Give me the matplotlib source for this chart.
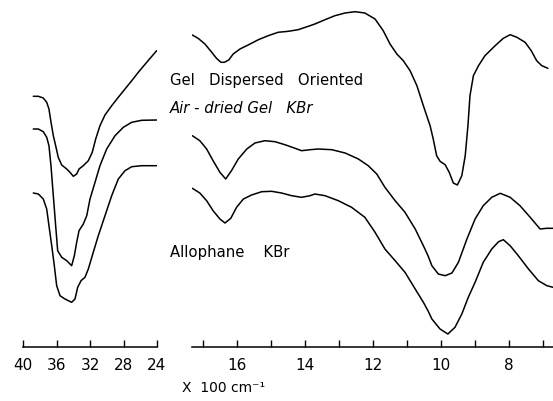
import matplotlib
matplotlib.use("Agg")
import matplotlib.pyplot as plt

# ---- data (wavenumber in units of 100 cm^-1, transmittance in arbitrary units) ----
# O-H stretching region (left panel)
oh_x_gel = [38.77, 38.17, 37.58, 37.17, 36.90, 36.66, 36.38, 36.10, 35.79, 35.38, 34.78,
            34.39, 33.99, 33.59, 33.31, 32.80, 32.20, 31.73, 31.32, 30.81, 30.21, 29.41,
            28.62, 27.82, 27.02, 26.23, 25.23, 24.04]
oh_y_gel = [250.7, 250.7, 249, 244.7, 238, 225, 211.3, 201.3, 189.7, 182, 178,
            174.7, 170.7, 173, 178, 181.3, 186.3, 194.7, 208, 221.3, 232, 241.3,
            249.7, 258, 266.3, 274.7, 284.7, 296.3]

oh_x_air = [38.77, 38.17, 37.58, 37.17, 36.90, 36.66, 36.38, 36.10, 35.86, 35.38, 34.78,
            34.19, 33.87, 33.59, 33.31, 32.80, 32.39, 32.0, 31.40, 30.81, 30.01, 29.01,
            28.02, 27.02, 25.83, 24.04]
oh_y_air = [218, 218, 215.3, 209.7, 201.3, 181.3, 151.3, 121.3, 96.3, 89.7, 86.3,
            81.3, 91.3, 104.7, 116.3, 123, 131.3, 148, 164.7, 181.3, 198, 211.3,
            219.7, 224.7, 226.7, 227]

oh_x_allo = [38.77, 38.17, 37.58, 37.17, 36.90, 36.57, 36.26, 35.98, 35.58, 34.99, 34.19,
             33.79, 33.47, 33.07, 32.60, 32.20, 31.61, 31.01, 30.21, 29.41, 28.62, 27.82,
             27.02, 25.83, 24.04]
oh_y_allo = [154, 153, 148, 138, 121.3, 101.3, 81.3, 61.3, 51.3, 48, 44.7,
             48, 59.7, 66.3, 69.7, 78, 94.7, 111.3, 131.3, 151.3, 168, 176.3,
             180.3, 181.3, 181.3]

# fingerprint region (right panel)
fp_x_gel = [17.31, 17.14, 16.94, 16.74, 16.60, 16.47, 16.37, 16.24, 16.11, 15.91, 15.67,
            15.37, 15.08, 14.79, 14.49, 14.20, 13.85, 13.71, 13.41, 13.12, 12.82, 12.53,
            12.24, 11.94, 11.70, 11.50, 11.30, 11.11, 10.91, 10.71, 10.52, 10.32, 10.23,
            10.13, 10.03, 9.88, 9.76, 9.64, 9.52, 9.39, 9.29, 9.21, 9.15, 9.05, 8.90,
            8.71, 8.41, 8.17, 7.97, 7.77, 7.53, 7.35, 7.19, 7.04, 6.86]
fp_y_gel = [312, 308.7, 303, 294.7, 288.7, 284.7, 284.7, 287, 293, 298, 302,
            307.3, 311.3, 314.7, 315.7, 317.3, 321.3, 323, 327.3, 331.3, 334, 335.3,
            334, 328, 316.3, 303, 293, 286.3, 276.3, 261.3, 241.3, 221, 208,
            191.3, 185.7, 182.3, 174.7, 164, 162, 171.3, 191.3, 221.3, 251.3, 271.3, 281.3,
            291.3, 301.3, 308.7, 312.3, 309.7, 304.7, 296.3, 286.3, 281.3, 278.7]

fp_x_air = [17.31, 17.09, 16.89, 16.70, 16.50, 16.33, 16.16, 15.96, 15.71, 15.47, 15.18,
            14.88, 14.59, 14.29, 14.10, 13.85, 13.61, 13.21, 12.82, 12.43, 12.14, 11.89,
            11.65, 11.35, 11.06, 10.76, 10.52, 10.38, 10.27, 10.08, 9.88, 9.68, 9.49,
            9.24, 9.0, 8.76, 8.51, 8.26, 7.97, 7.68, 7.38, 7.09, 6.89, 6.71]
fp_y_air = [211.3, 206.3, 198, 186.3, 174.7, 168, 176.3, 188, 198, 204, 206.3,
            205.3, 202.3, 198.7, 196.3, 197.3, 198, 197.3, 194, 188, 181.3, 173,
            159.7, 146.3, 134.7, 118, 101.3, 91, 81.3, 73, 71.3, 74, 84.7,
            108, 128, 141.3, 149.7, 153.7, 149.7, 141.3, 129.7, 118, 118.7, 118.7]

fp_x_allo = [17.31, 17.09, 16.89, 16.70, 16.50, 16.35, 16.18, 16.01, 15.81, 15.57, 15.27,
             14.98, 14.69, 14.39, 14.10, 13.85, 13.71, 13.41, 13.02, 12.63, 12.24, 11.94,
             11.65, 11.35, 11.06, 10.76, 10.52, 10.38, 10.27, 10.03, 9.80, 9.59, 9.39,
             9.20, 9.0, 8.76, 8.51, 8.31, 8.17, 7.97, 7.73, 7.43, 7.14, 6.89, 6.71]
fp_y_allo = [158.7, 154, 146.3, 136.3, 128, 124, 128.7, 139.7, 148, 152, 155.3,
             155.7, 154, 151.3, 149.7, 151.3, 153, 151.3, 146.3, 139.7, 129.7, 114.7,
             98, 86.3, 74.7, 58, 44.7, 36, 28, 18, 13, 19.7, 33,
             49.7, 64.7, 84.7, 98, 105.3, 107.3, 101.3, 91.3, 78, 66.3, 61.3, 59.7]

left_ticks = [40, 36, 32, 28, 24]
left_ticklabels = ["40", "36", "32", "28", "24"]
right_ticks = [17, 16, 15, 14, 13, 12, 11, 10, 9, 8, 7]
right_labels = {16: "16", 14: "14", 12: "12", 10: "10", 8: "8"}

labels = ["Gel   Dispersed   Oriented", "Air - dried Gel   KBr", "Allophane    KBr"]
xlabel = "X  100 cm\u207b\u00b9"

# ---- figure ----
W, H = 553, 402
fig = plt.figure(figsize=(W / 100, H / 100), dpi=100)
plt.rcParams['font.family'] = ['DejaVu Sans']

ybot = (H - 348) / H
yh = 348 / H
axL = fig.add_axes([23 / W, ybot, 134 / W, yh])
axR = fig.add_axes([192 / W, ybot, 361 / W, yh])

lw = 1.1
for xs, ys in [(oh_x_gel, oh_y_gel), (oh_x_air, oh_y_air), (oh_x_allo, oh_y_allo)]:
    axL.plot(xs, ys, color='black', lw=lw, solid_joinstyle='round', solid_capstyle='round')
for xs, ys in [(fp_x_gel, fp_y_gel), (fp_x_air, fp_y_air), (fp_x_allo, fp_y_allo)]:
    axR.plot(xs, ys, color='black', lw=lw, solid_joinstyle='round', solid_capstyle='round')

axL.set_xlim(40, 24)
axR.set_xlim(17.32, 6.71)
for ax in (axL, axR):
    ax.set_ylim(0, 348)
    for s in ('top', 'left', 'right'):
        ax.spines[s].set_visible(False)
    ax.spines['bottom'].set_linewidth(1.1)
    ax.set_yticks([])
    ax.patch.set_alpha(0)
    ax.tick_params(axis='x', direction='in', length=5, width=1.0, pad=7,
                   labelsize=11, colors='black')

axL.set_xticks(left_ticks)
axL.set_xticklabels(left_ticklabels)
axR.set_xticks(right_ticks)
axR.set_xticklabels([right_labels.get(t, "") for t in right_ticks])

fig.text(170 / W, 1 - 85 / H, labels[0], fontsize=10.7, va='baseline', ha='left')
fig.text(170 / W, 1 - 113 / H, labels[1], fontsize=10.7, va='baseline', ha='left',
         style='italic')
fig.text(170 / W, 1 - 257 / H, labels[2], fontsize=10.7, va='baseline', ha='left')
fig.text(182 / W, 1 - 388 / H, xlabel, fontsize=10, va='center', ha='left')

fig.savefig("out.png", dpi=100)
